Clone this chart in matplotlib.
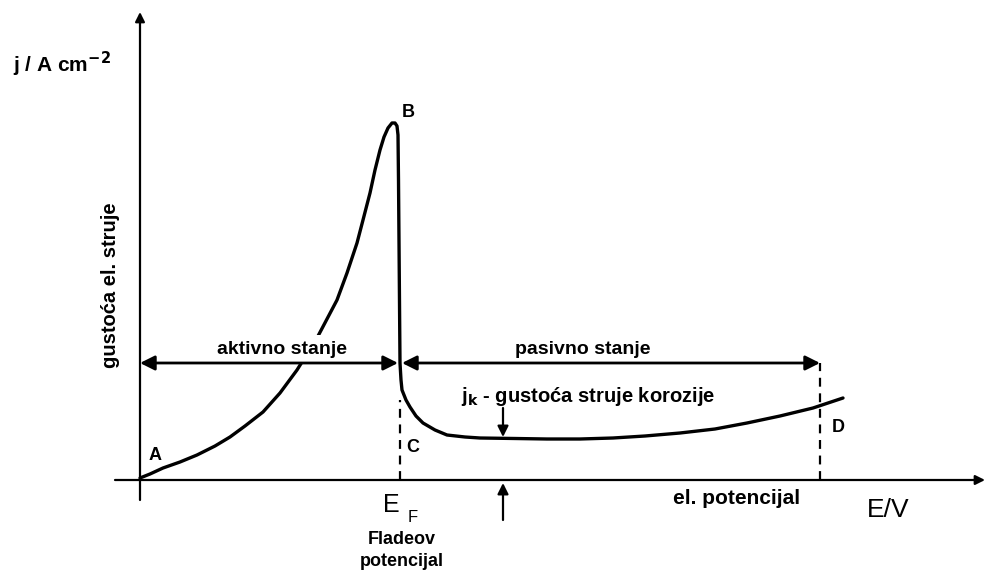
import matplotlib
matplotlib.use("Agg")
import matplotlib.pyplot as plt

# potential E (arb. units) and current density j (arb. units)
E_curve = [0, 0.1, 0.23, 0.4, 0.57, 0.75, 0.9, 1.05, 1.23, 1.4, 1.57, 1.77, 1.97,
           2.07, 2.17, 2.23, 2.3, 2.35, 2.4, 2.44, 2.48, 2.52, 2.55, 2.57, 2.58,
           2.585, 2.6, 2.61, 2.62, 2.66, 2.7, 2.76, 2.83, 2.95, 3.07, 3.25, 3.4,
           3.75, 4.07, 4.4, 4.73, 5.05, 5.4, 5.75, 6.07, 6.4, 6.73, 7.03]
j_curve = [0.02, 0.06, 0.12, 0.18, 0.25, 0.34, 0.43, 0.54, 0.68, 0.87, 1.10, 1.42,
           1.80, 2.07, 2.37, 2.60, 2.87, 3.10, 3.30, 3.43, 3.52, 3.57, 3.57, 3.54,
           3.45, 3.0, 1.17, 1.0, 0.9, 0.8, 0.73, 0.64, 0.57, 0.50, 0.45, 0.43,
           0.42, 0.415, 0.41, 0.41, 0.42, 0.44, 0.47, 0.51, 0.57, 0.64, 0.72, 0.82]

E_F = 2.60        # Fladeov potencijal
E_D = 6.80        # end of passive region
j_state = 1.17    # level of the state arrows
E_jk = 3.63       # where j_k is marked
j_k = 0.42
E_max, j_max = 8.45, 4.68

BOLD = dict(family="Liberation Sans", fontweight="bold", color="black")

fig = plt.figure(figsize=(9.92, 5.73), dpi=100)
ax = fig.add_axes([0, 0, 1, 1])
ax.set_xlim(-1.4, 8.52)
ax.set_ylim(-0.93, 4.80)
ax.axis("off")

# axes with arrows
ax.annotate("", xy=(E_max, 0), xytext=(-0.25, 0),
            arrowprops=dict(arrowstyle="-|>", lw=1.6, color="black",
                            mutation_scale=14, shrinkA=0, shrinkB=0))
ax.annotate("", xy=(0, j_max), xytext=(0, -0.2),
            arrowprops=dict(arrowstyle="-|>", lw=1.6, color="black",
                            mutation_scale=14, shrinkA=0, shrinkB=0))

# polarisation curve
ax.plot(E_curve, j_curve, color="black", lw=2.4, solid_capstyle="round",
        solid_joinstyle="round", zorder=2)

# dashed markers
ax.plot([E_F, E_F], [0, 0.8], color="black", lw=1.6, ls=(0, (4, 3)))
ax.plot([E_D, E_D], [0, j_state], color="black", lw=1.6, ls=(0, (4, 3)))

# state arrows
arr = dict(arrowstyle="<|-|>", lw=2.0, color="black", mutation_scale=22,
           shrinkA=0, shrinkB=0)
ax.annotate("", xy=(E_F - 0.02, j_state), xytext=(0, j_state), arrowprops=arr,
            zorder=5)
ax.annotate("", xy=(E_D, j_state), xytext=(E_F + 0.02, j_state), arrowprops=arr,
            zorder=5)

# j_k arrows
small = dict(arrowstyle="-|>", lw=1.6, color="black", mutation_scale=16,
             shrinkA=0, shrinkB=0)
ax.annotate("", xy=(E_jk, j_k + 0.01), xytext=(E_jk, 0.72), arrowprops=small)
ax.annotate("", xy=(E_jk, -0.03), xytext=(E_jk, -0.40), arrowprops=small)

# texts
ax.text(1.42, j_state + 0.05, "aktivno stanje", ha="center", va="bottom",
        fontsize=14, zorder=4,
        bbox=dict(facecolor="white", edgecolor="none", pad=4), **BOLD)
ax.text(4.43, j_state + 0.05, "pasivno stanje", ha="center", va="bottom",
        fontsize=14, **BOLD)
ax.text(4.48, 0.84, r"j$_\mathbf{k}$ - gustoća struje korozije", ha="center",
        va="center", fontsize=14.5, **BOLD)
ax.text(0.15, 0.24, "A", ha="center", va="center", fontsize=13, **BOLD)
ax.text(2.68, 3.67, "B", ha="center", va="center", fontsize=13, **BOLD)
ax.text(2.73, 0.32, "C", ha="center", va="center", fontsize=13, **BOLD)
ax.text(6.98, 0.52, "D", ha="center", va="center", fontsize=13, **BOLD)

ax.text(2.51, -0.25, "E", ha="center", va="center", fontsize=18,
        family="Liberation Sans", color="black")
ax.text(2.73, -0.38, "F", ha="center", va="center", fontsize=12,
        family="Liberation Sans", color="black")
ax.text(2.62, -0.60, "Fladeov", ha="center", va="center", fontsize=13, **BOLD)
ax.text(2.62, -0.82, "potencijal", ha="center", va="center", fontsize=13, **BOLD)
ax.text(5.97, -0.19, "el. potencijal", ha="center", va="center", fontsize=15,
        **BOLD)
ax.text(7.48, -0.30, "E/V", ha="center", va="center", fontsize=19,
        family="Liberation Sans", color="black")

ax.text(-1.27, 4.16, r"j / A cm$^{\mathbf{-2}}$", ha="left", va="center",
        fontsize=15, **BOLD)
ax.text(-0.30, 1.95, "gustoća el. struje", ha="center", va="center",
        rotation=90, fontsize=14.5, family=["Liberation Sans Narrow",
                                            "Liberation Sans"],
        fontweight="bold")

fig.savefig("out.png", dpi=100, facecolor="white")
